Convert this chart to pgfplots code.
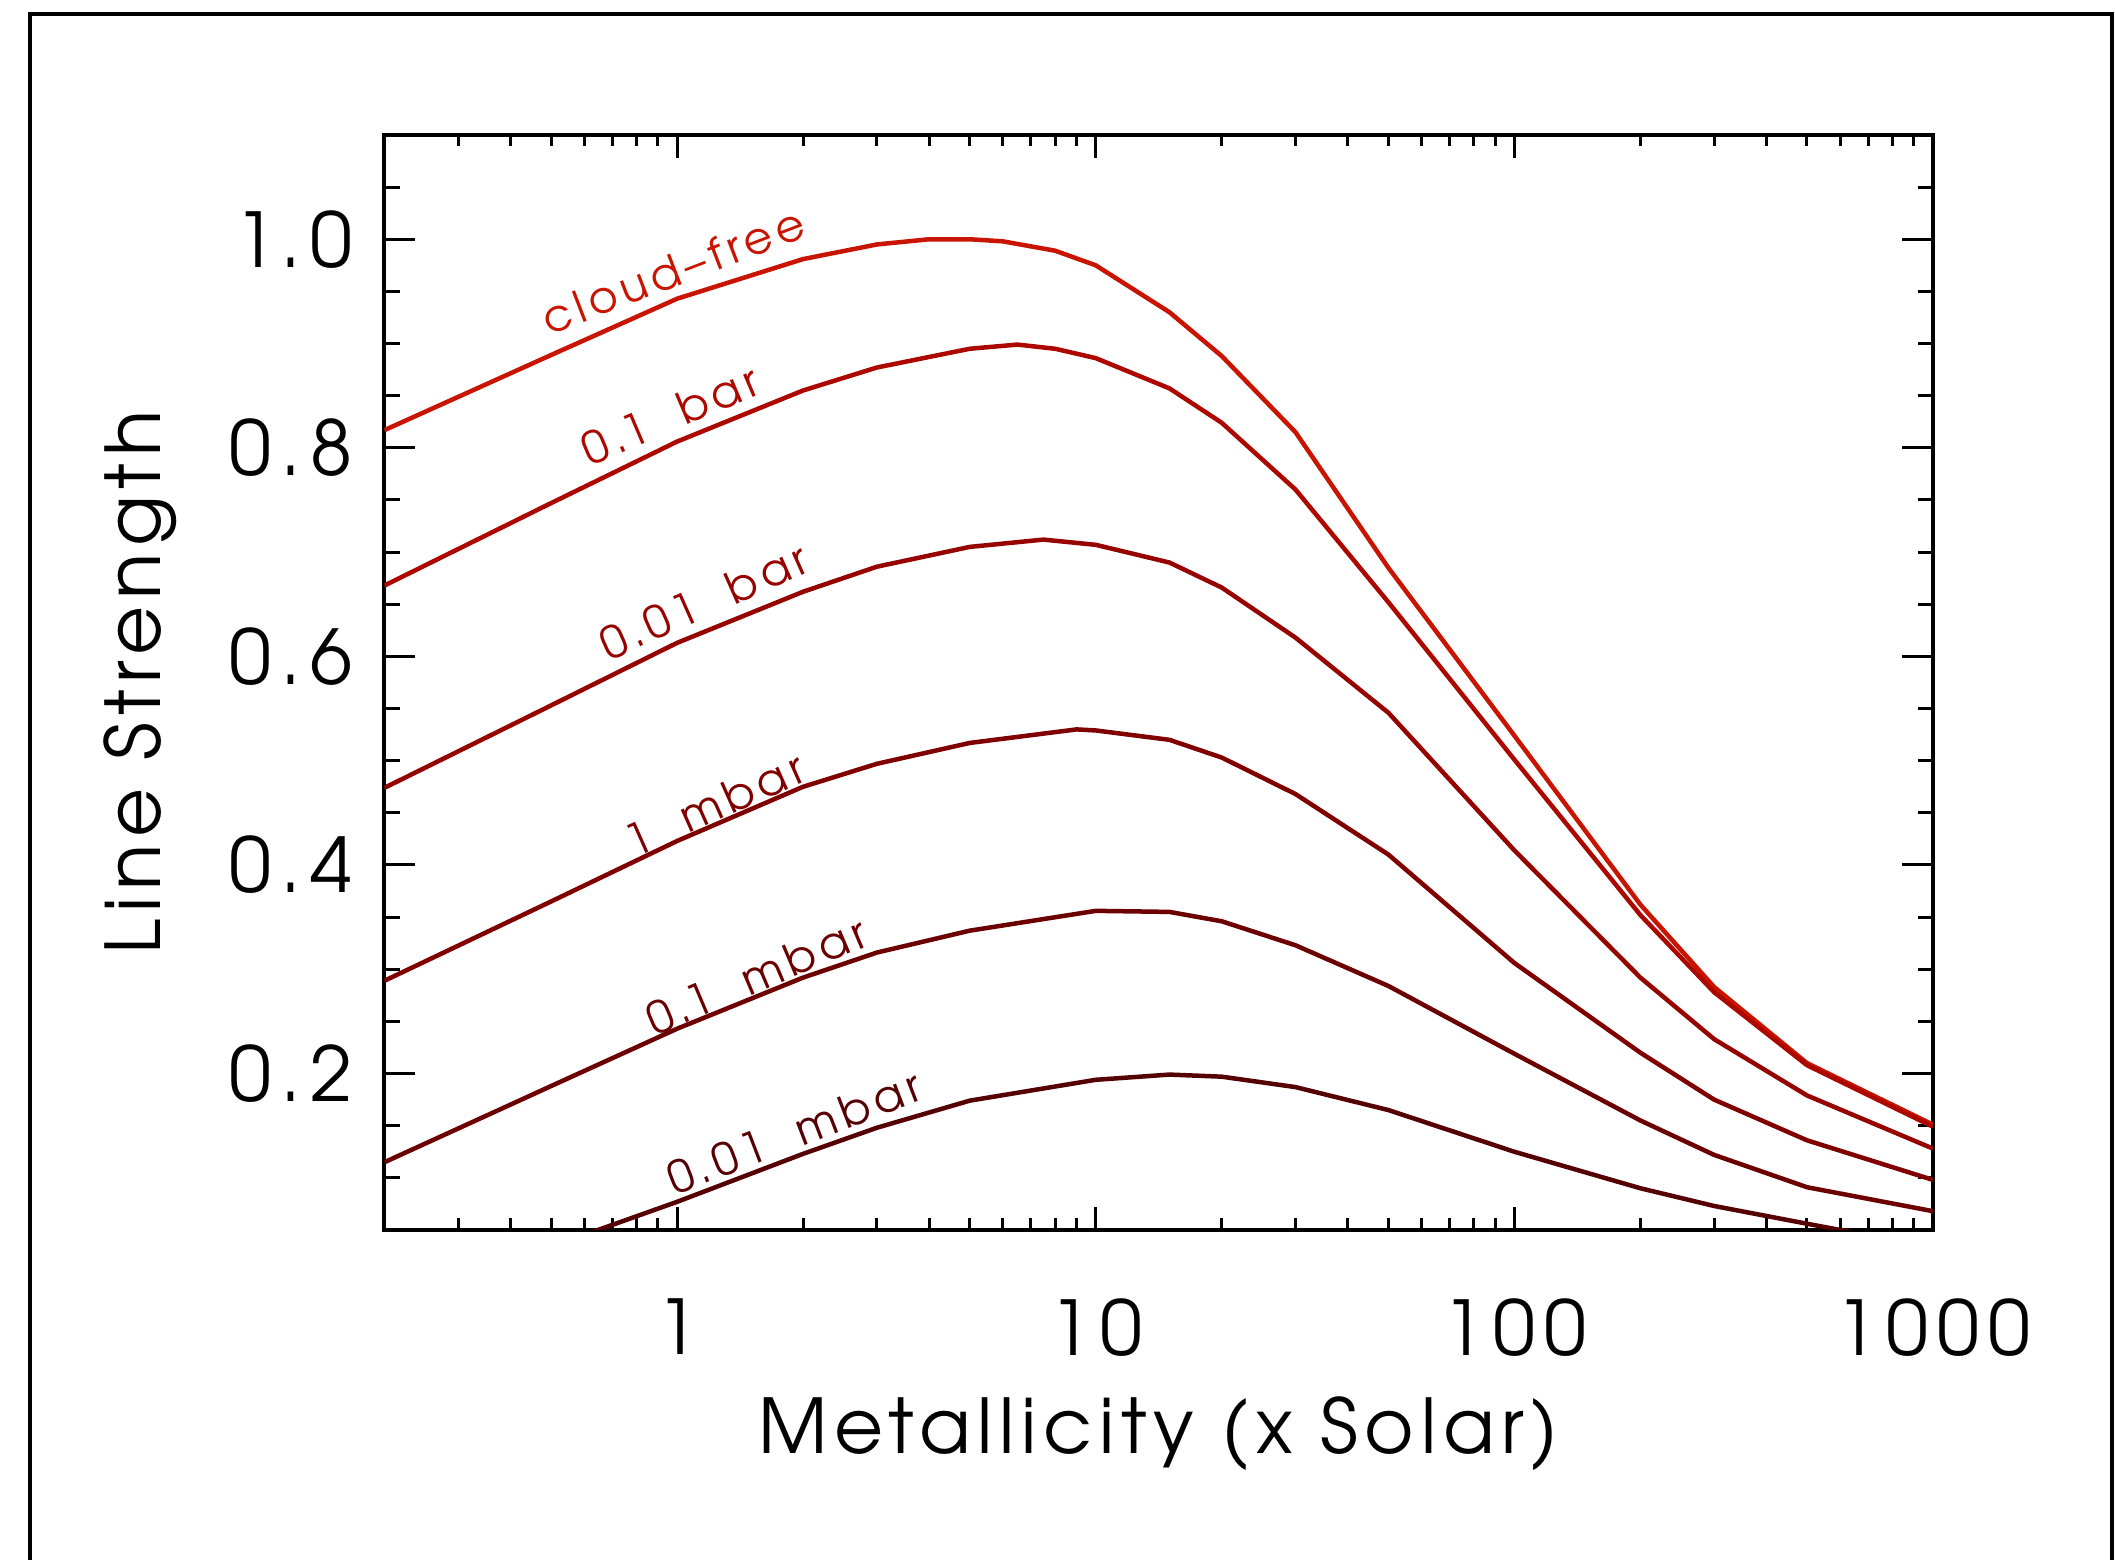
\documentclass[border=0pt]{standalone}
\usepackage{fontspec}
\setmainfont{texgyreadventor}[Extension=.otf, UprightFont=*-regular, BoldFont=*-bold, ItalicFont=*-italic, BoldItalicFont=*-bolditalic]
\newfontfamily\spfont{texgyreadventor}[Extension=.otf, UprightFont=*-regular, LetterSpace=12]
\newfontfamily\lbfont{texgyreadventor}[Extension=.otf, UprightFont=*-regular, LetterSpace=9]
\usepackage{pgfplots}
\pgfplotsset{compat=1.18}
\definecolor{cA}{RGB}{200,20,0}
\definecolor{cB}{RGB}{172,8,0}
\definecolor{cC}{RGB}{150,4,0}
\definecolor{cD}{RGB}{128,0,0}
\definecolor{cE}{RGB}{108,0,0}
\definecolor{cF}{RGB}{85,0,2}
\begin{document}
\begin{tikzpicture}
\path[use as bounding box] (0,0) rectangle (211.5mm,156mm);
\draw[line width=0.45mm] (3.0mm,-2mm) -- (3.0mm,154.6mm) -- (211.2mm,154.6mm) -- (211.2mm,-2mm);
\begin{axis}[
  at={(38.45mm,33mm)}, anchor=south west,
  width=154.85mm, height=109.5mm, scale only axis,
  xmode=log, xmin=0.2, xmax=1000, ymin=0.05, ymax=1.1,
  axis line style={line width=0.4mm},
  every tick/.style={line width=0.3mm, black},
  tick align=inside,
  xtick={1,10,100,1000}, xticklabels={1,10,100,1000},
  minor xtick={0.2,0.3,0.4,0.5,0.6,0.7,0.8,0.9,2,3,4,5,6,7,8,9,20,30,40,50,60,70,80,90,200,300,400,500,600,700,800,900},
  ytick={0.2,0.4,0.6,0.8,1.0}, yticklabels={0.2,0.4,0.6,0.8,1.0},
  minor ytick={0.1,0.15,0.25,0.3,0.35,0.45,0.5,0.55,0.65,0.7,0.75,0.85,0.9,0.95,1.05},
  major tick length=3.1mm, minor tick length=1.55mm,
  xtick style={/pgfplots/major tick length=2.3mm, /pgfplots/minor tick length=1.15mm},
  /pgf/number format/assume math mode=true,
  ticklabel style={font=\fontsize{21.5}{21.5}\spfont},
  xticklabel style={inner sep=0pt, anchor=north, yshift=-6.8mm},
  yticklabel style={inner sep=0pt, anchor=east, xshift=-3.15mm},
  xlabel={Metallicity (x Solar)},
  ylabel={Line Strength},
  every axis x label/.style={at={(axis description cs:0.5,-0.2037)}, anchor=base, inner sep=0pt, font=\fontsize{21.5}{21.5}\lbfont},
  every axis y label/.style={at={(axis description cs:-0.1447,0.5)}, rotate=90, anchor=base, inner sep=0pt, font=\fontsize{21.5}{21.5}\lbfont},
  clip=true,
  every axis plot/.append style={line width=0.45mm, mark=none},
]
% cloud-free
\addplot[color=cA] coordinates {(0.2,0.817) (0.5,0.889) (1,0.943) (2,0.981) (3,0.995) (4,1.0) (5,1.0) (6,0.998) (8,0.989) (10,0.975) (15,0.930) (20,0.888) (30,0.815) (50,0.685) (100,0.524) (200,0.362) (300,0.283) (500,0.210) (1000,0.151)};
% 0.1 bar
\addplot[color=cB] coordinates {(0.2,0.668) (0.5,0.747) (1,0.806) (2,0.855) (3,0.877) (5,0.895) (6.5,0.899) (8,0.895) (10,0.886) (15,0.857) (20,0.824) (30,0.760) (50,0.652) (100,0.501) (200,0.352) (300,0.278) (500,0.208) (1000,0.149)};
% 0.01 bar
\addplot[color=cC] coordinates {(0.2,0.474) (0.5,0.553) (1,0.613) (2,0.662) (3,0.686) (5,0.705) (7.5,0.712) (10,0.707) (15,0.690) (20,0.666) (30,0.618) (50,0.546) (100,0.414) (200,0.292) (300,0.233) (500,0.179) (1000,0.128)};
% 1 mbar
\addplot[color=cD] coordinates {(0.2,0.289) (0.5,0.365) (1,0.423) (2,0.475) (3,0.497) (5,0.517) (9,0.530) (10,0.529) (15,0.520) (20,0.503) (30,0.468) (50,0.410) (100,0.306) (200,0.220) (300,0.175) (500,0.136) (1000,0.098)};
% 0.1 mbar
\addplot[color=cE] coordinates {(0.2,0.115) (0.5,0.188) (1,0.243) (2,0.292) (3,0.316) (5,0.337) (10,0.356) (15,0.355) (20,0.346) (30,0.323) (50,0.284) (100,0.219) (200,0.155) (300,0.122) (500,0.091) (1000,0.068)};
% 0.01 mbar
\addplot[color=cF] coordinates {(0.5,0.034) (1,0.077) (2,0.123) (3,0.148) (5,0.174) (10,0.194) (15,0.199) (20,0.197) (30,0.187) (50,0.165) (100,0.125) (200,0.090) (300,0.073) (500,0.056) (600,0.050) (1000,0.035)};
\begin{scope}[every node/.style={font=\fontsize{12.6}{12.6}\spfont, inner sep=0pt, anchor=center}]
\node[cA, rotate=21] at (axis cs:0.978,0.970) {cloud–free};
\node[cB, rotate=23] at (axis cs:0.964,0.832) {0.1\ \ bar};
\node[cC, rotate=24] at (axis cs:1.16,0.653) {0.01\ \ bar};
\node[cD, rotate=24] at (axis cs:1.23,0.458) {1\ \ mbar};
\node[cE, rotate=23] at (axis cs:1.547,0.294) {0.1\ \ mbar};
\node[cF, rotate=21] at (axis cs:1.906,0.144) {0.01\ \ mbar};
\end{scope}
\end{axis}
\end{tikzpicture}
\end{document}
